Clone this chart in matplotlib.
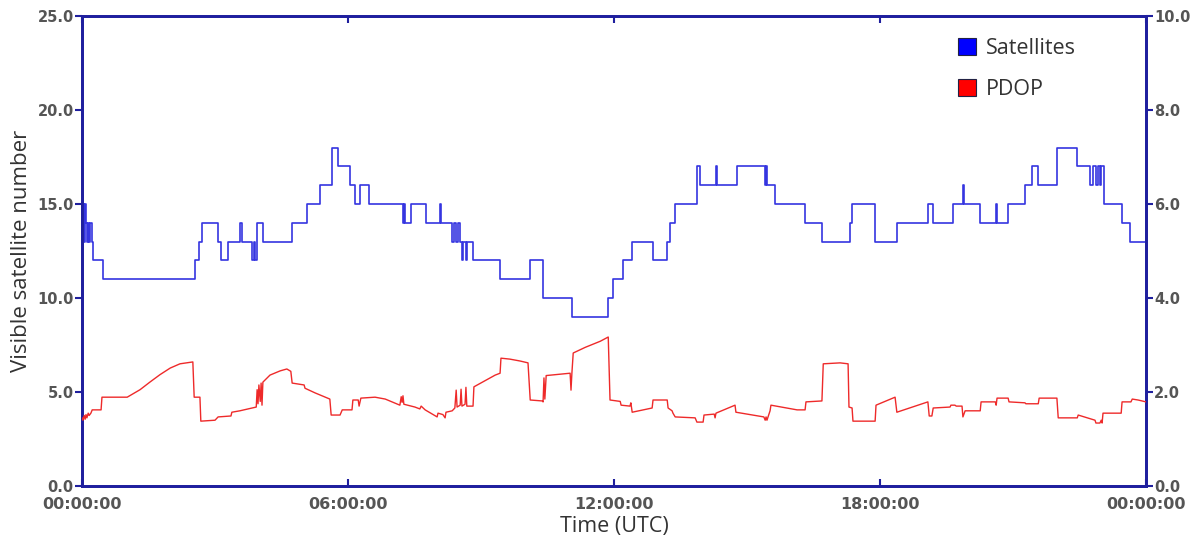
import matplotlib
matplotlib.use("Agg")
import matplotlib.pyplot as plt
from matplotlib.patches import Patch
import numpy as np

# ---- data (time in hours UTC) ----
sat_time = [0.00, 0.05, 0.07, 0.09, 0.11, 0.14, 0.16, 0.18, 0.23, 0.25, 0.47,
            2.55, 2.64, 2.71, 3.07, 3.14, 3.29, 3.56, 3.61, 3.84, 3.88, 3.90, 3.95,
            4.08, 4.74, 5.08, 5.37, 5.64, 5.78, 6.05, 6.16, 6.27, 6.47,
            7.24, 7.26, 7.29, 7.42, 7.76, 8.08, 8.10, 8.35, 8.39, 8.44, 8.48,
            8.53, 8.57, 8.60, 8.64, 8.66, 8.69, 8.82, 9.43, 10.11, 10.40, 11.05,
            11.87, 11.98, 12.20, 12.41, 12.88, 13.20, 13.26, 13.38, 13.87, 13.94,
            14.01, 14.30, 14.33, 14.78, 15.41, 15.43, 15.45, 15.63, 16.31, 16.69,
            17.33, 17.37, 17.89, 18.39, 19.08, 19.20, 19.65, 19.87, 19.90, 20.26,
            20.62, 20.64, 20.89, 21.27, 21.43, 21.57, 21.99, 22.45, 22.74, 22.81,
            22.87, 22.92, 22.96, 22.99, 23.06, 23.46, 23.64, 24.00]
sat_count = [15, 13, 15, 14, 13, 14, 13, 14, 13, 12, 11,
             12, 13, 14, 13, 12, 13, 14, 13, 12, 13, 12, 14,
             13, 14, 15, 16, 18, 17, 16, 15, 16, 15,
             14, 15, 14, 15, 14, 15, 14, 13, 14, 13, 14,
             13, 12, 13, 13, 12, 13, 12, 11, 12, 10, 9,
             10, 11, 12, 13, 12, 13, 14, 15, 17, 16,
             16, 17, 16, 17, 16, 17, 16, 15, 14, 13,
             14, 15, 13, 14, 15, 14, 15, 16, 15, 14,
             15, 14, 15, 16, 17, 16, 18, 17, 16, 17,
             16, 17, 16, 17, 15, 14, 13, 13]

pdop_time = [0.00, 0.02, 0.05, 0.07, 0.09, 0.11, 0.14, 0.16, 0.20, 0.23, 0.43, 0.45,
             1.02, 1.31, 1.53, 1.76, 1.99, 2.21, 2.50, 2.53, 2.66, 2.68, 3.00, 3.07,
             3.36, 3.38, 3.56, 3.65, 3.93, 3.95, 3.97, 3.99, 4.02, 4.04, 4.06, 4.08,
             4.24, 4.47, 4.62, 4.71, 4.74, 5.01, 5.03, 5.26, 5.59, 5.62, 5.82, 5.87,
             6.09, 6.11, 6.23, 6.25, 6.29, 6.61, 6.84, 7.17, 7.20, 7.22, 7.24, 7.26,
             7.51, 7.62, 7.65, 7.74, 8.01, 8.03, 8.14, 8.19, 8.21, 8.35, 8.41, 8.44,
             8.46, 8.53, 8.55, 8.57, 8.64, 8.66, 8.68, 8.82, 8.84, 9.32, 9.43, 9.45,
             9.65, 9.88, 10.06, 10.11, 10.38, 10.40, 10.42, 10.44, 10.47, 11.01, 11.03,
             11.05, 11.08, 11.35, 11.69, 11.87, 11.91, 12.14, 12.16, 12.36, 12.38,
             12.41, 12.86, 12.88, 13.20, 13.22, 13.31, 13.33, 13.38, 13.83, 13.87,
             14.01, 14.03, 14.26, 14.28, 14.30, 14.73, 14.75, 15.38, 15.41, 15.43,
             15.45, 15.52, 15.54, 16.13, 16.31, 16.33, 16.69, 16.72, 17.10, 17.28,
             17.30, 17.37, 17.39, 17.89, 17.91, 18.34, 18.38, 19.08, 19.11, 19.17,
             19.20, 19.58, 19.60, 19.69, 19.72, 19.85, 19.87, 19.92, 20.26, 20.28,
             20.60, 20.62, 20.64, 20.89, 20.91, 21.27, 21.29, 21.57, 21.59, 21.99,
             22.02, 22.45, 22.47, 22.85, 22.87, 22.96, 22.99, 23.01, 23.03, 23.44,
             23.46, 23.66, 23.69, 23.82, 24.00]
pdop_value = [1.45, 1.40, 1.50, 1.42, 1.52, 1.45, 1.55, 1.50, 1.55, 1.62, 1.62, 1.89,
              1.89, 2.05, 2.21, 2.37, 2.51, 2.60, 2.64, 1.89, 1.89, 1.38, 1.40, 1.47,
              1.49, 1.57, 1.60, 1.62, 1.68, 2.05, 1.75, 2.15, 1.80, 2.19, 1.72, 2.21,
              2.36, 2.45, 2.49, 2.44, 2.19, 2.15, 2.08, 1.98, 1.85, 1.51, 1.51, 1.62,
              1.62, 1.83, 1.83, 1.70, 1.87, 1.89, 1.85, 1.72, 1.90, 1.78, 1.92, 1.74,
              1.68, 1.64, 1.70, 1.62, 1.47, 1.55, 1.52, 1.45, 1.57, 1.60, 1.66, 2.04,
              1.68, 1.72, 2.06, 1.70, 1.74, 2.10, 1.70, 1.70, 2.11, 2.36, 2.40, 2.72,
              2.70, 2.66, 2.62, 1.83, 1.81, 1.79, 2.30, 1.85, 2.35, 2.40, 2.04,
              2.40, 2.83, 2.95, 3.08, 3.17, 1.83, 1.80, 1.72, 1.70, 1.77,
              1.57, 1.66, 1.83, 1.83, 1.66, 1.60, 1.55, 1.47, 1.45, 1.36,
              1.36, 1.51, 1.53, 1.45, 1.55, 1.72, 1.57, 1.47, 1.40, 1.47,
              1.40, 1.60, 1.72, 1.62, 1.62, 1.79, 1.81, 2.60, 2.62, 2.60,
              1.68, 1.66, 1.38, 1.38, 1.72, 1.89, 1.57, 1.79, 1.49, 1.49,
              1.66, 1.68, 1.72, 1.72, 1.70, 1.70, 1.47, 1.60, 1.60, 1.79,
              1.79, 1.72, 1.87, 1.87, 1.79, 1.77, 1.75, 1.75, 1.87, 1.87,
              1.45, 1.45, 1.51, 1.40, 1.34, 1.34, 1.40, 1.34, 1.55, 1.55,
              1.79, 1.79, 1.85, 1.83, 1.79]

left_ticks = [0, 5, 10, 15, 20, 25]
left_labels = ["0.0", "5.0", "10.0", "15.0", "20.0", "25.0"]
right_ticks = [0, 2, 4, 6, 8, 10]
right_labels = ["0.0", "2.0", "4.0", "6.0", "8.0", "10.0"]
x_ticks = [0, 6, 12, 18, 24]
x_labels = ["00:00:00", "06:00:00", "12:00:00", "18:00:00", "00:00:00"]

# ---- style ----
spine_col = "#1f1f9e"
tick_col = "#555555"
blue = "#3535e0"
red = "#ee2a2a"

fig = plt.figure(figsize=(11.99, 5.47), dpi=100)
ax = fig.add_axes([0.0684, 0.1115, 0.8874, 0.8592])
ax2 = ax.twinx()

ax.plot(sat_time, sat_count, drawstyle="steps-post", color=blue, lw=1.2, zorder=3)
ax2.plot(pdop_time, pdop_value, color=red, lw=1.0, zorder=3)

ax.set_xlim(0, 24)
ax.set_ylim(0, 25)
ax2.set_ylim(0, 10)

ax.set_yticks(left_ticks)
ax.set_yticklabels(left_labels)
ax2.set_yticks(right_ticks)
ax2.set_yticklabels(right_labels)
ax.set_xticks(x_ticks)
ax.set_xticklabels(x_labels)

for a in (ax, ax2):
    for s in a.spines.values():
        s.set_color(spine_col)
        s.set_linewidth(2.0)

ax.tick_params(axis="y", direction="out", length=5, width=1.5, color=spine_col,
               labelcolor=tick_col, labelsize=10.5, pad=1)
ax2.tick_params(axis="y", direction="out", length=5, width=1.5, color=spine_col,
                labelcolor=tick_col, labelsize=10.5, pad=1)
ax.tick_params(axis="x", direction="in", length=5, width=1.5, color=spine_col,
               labelcolor=tick_col, labelsize=11.5, pad=8, top=True)
for lab in ax.get_yticklabels() + ax2.get_yticklabels():
    lab.set_fontweight("bold")
for lab in ax.get_xticklabels():
    lab.set_fontweight("bold")

ax.set_ylabel("Visible satellite number", fontsize=16, color="#333333",
              family="Open Sans", labelpad=4)
ax.set_xlabel("Time (UTC)", fontsize=15.5, color="#333333", family="Open Sans",
              labelpad=3)

handles = [Patch(facecolor="#0000ff", edgecolor="#222244", lw=0.8, label="Satellites"),
           Patch(facecolor="#ff0000", edgecolor="#222244", lw=0.8, label="PDOP")]
leg = ax.legend(handles=handles, loc="upper left", bbox_to_anchor=(0.805, 0.995),
                frameon=False, handlelength=0.85, handleheight=0.85, handletextpad=0.45,
                labelspacing=0.95, prop={"family": "Open Sans", "size": 15.5})
for t in leg.get_texts():
    t.set_color("#333333")

fig.savefig("out.png", dpi=100, facecolor="white")
